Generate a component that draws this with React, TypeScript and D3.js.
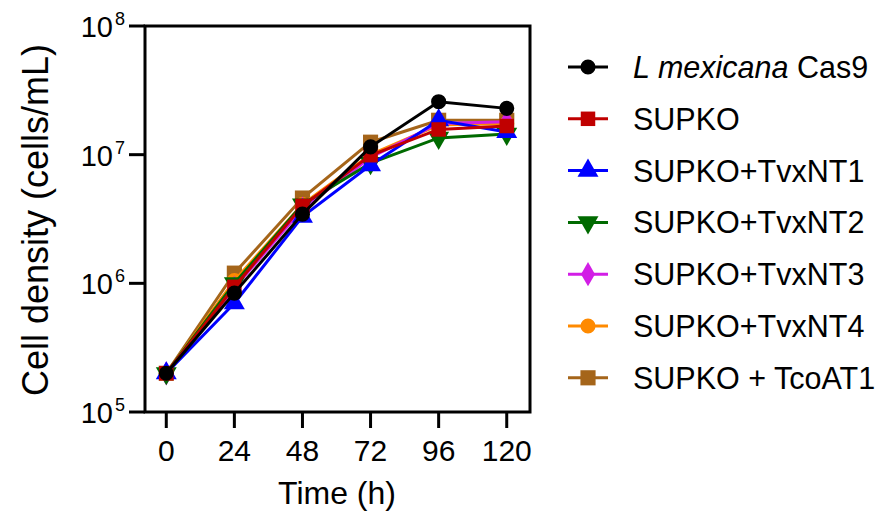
import React from 'react';
import * as d3 from 'd3';

const hours = [0, 24, 48, 72, 96, 120];
const seriesNames = [
  'L mexicana Cas9',
  'SUPKO',
  'SUPKO+TvxNT1',
  'SUPKO+TvxNT2',
  'SUPKO+TvxNT3',
  'SUPKO+TvxNT4',
  'SUPKO + TcoAT1',
];
const cas9 = [2e5, 8.4e5, 3.45e6, 1.15e7, 2.58e7, 2.29e7];
const supko = [2e5, 9.4e5, 4.0e6, 9.9e6, 1.57e7, 1.67e7];
const tvxnt1 = [2e5, 7.0e5, 3.3e6, 8.3e6, 1.85e7, 1.5e7];
const tvxnt2 = [2e5, 1.0e6, 4.1e6, 8.6e6, 1.35e7, 1.45e7];
const tvxnt3 = [2e5, 9.2e5, 3.8e6, 9.5e6, 1.75e7, 1.8e7];
const tvxnt4 = [2e5, 1.05e6, 4.1e6, 1.0e7, 1.7e7, 1.75e7];
const tcoat1 = [2e5, 1.2e6, 4.6e6, 1.25e7, 1.85e7, 1.85e7];
const yTicks = [5, 6, 7, 8];

const colors = ['#000000', '#c00000', '#0000ff', '#006a00', '#d21ee6', '#ff8a00', '#a5651a'];
const symbols = [
  d3.symbolCircle,
  d3.symbolSquare,
  d3.symbolTriangle,
  d3.symbolTriangle,
  d3.symbolDiamond,
  d3.symbolCircle,
  d3.symbolSquare,
];
const symSizes = [180, 210, 190, 190, 170, 180, 230];
const allValues = [cas9, supko, tvxnt1, tvxnt2, tvxnt3, tvxnt4, tcoat1];

const font = '"Liberation Sans", Arial, sans-serif';

export default function App() {
  const left = 145, right = 530, top = 26, bottom = 412;
  const x = d3.scaleLinear().domain([-7.5, 128.2]).range([left, right]);
  const y = d3.scaleLog().domain([1e5, 1e8]).range([bottom, top]);

  const line = d3
    .line<number>()
    .x((_, i) => x(hours[i]))
    .y((v) => y(v));

  const marker = (i: number) => d3.symbol().type(symbols[i]).size(symSizes[i])() as string;
  const rot = (i: number) => (i === 3 ? 180 : 0);

  const order = d3.range(seriesNames.length).reverse();

  return (
    <svg width={887} height={513} style={{ position: 'absolute', left: 0, top: 0, background: '#fff' }}>
      {/* series, last one under */}
      {order.map((i) => (
        <g key={i}>
          <path d={line(allValues[i]) as string} fill="none" stroke={colors[i]} strokeWidth={3} />
          {allValues[i].map((v, j) => (
            <path
              key={j}
              d={marker(i)}
              fill={colors[i]}
              transform={`translate(${x(hours[j])},${y(v)}) rotate(${rot(i)})`}
            />
          ))}
        </g>
      ))}

      {/* frame */}
      <rect x={left} y={top} width={right - left} height={bottom - top} fill="none" stroke="#000" strokeWidth={3} />

      {/* y axis ticks */}
      {yTicks.map((p) => (
        <g key={p} transform={`translate(0,${y(Math.pow(10, p))})`}>
          <line x1={129} x2={left} stroke="#000" strokeWidth={3} />
          <text x={113} y={11} textAnchor="end" fontFamily={font} fontSize={29} fill="#000">
            10
          </text>
          <text x={115} y={-1} fontFamily={font} fontSize={18} fill="#000">
            {p}
          </text>
        </g>
      ))}

      {/* x axis ticks */}
      {hours.map((h) => (
        <g key={h} transform={`translate(${x(h)},0)`}>
          <line y1={bottom} y2={bottom + 16} stroke="#000" strokeWidth={3} />
          <text y={461} textAnchor="middle" fontFamily={font} fontSize={30} fill="#000">
            {h}
          </text>
        </g>
      ))}

      <text x={337} y={504} textAnchor="middle" fontFamily={font} fontSize={32} fill="#000">
        Time (h)
      </text>
      <text
        transform="translate(48,220) rotate(-90)"
        textAnchor="middle"
        fontFamily={font}
        fontSize={36}
        fill="#000"
      >
        Cell density (cells/mL)
      </text>

      {/* legend */}
      {seriesNames.map((name, i) => {
        const ly = 67 + i * 51.8;
        return (
          <g key={name} transform={`translate(0,${ly})`}>
            <line x1={568} x2={608} stroke={colors[i]} strokeWidth={3} />
            <path d={marker(i)} fill={colors[i]} transform={`translate(588,0) rotate(${rot(i)})`} />
            <text x={633} y={11} fontFamily={font} fontSize={30.5} fill="#000">
              {i === 0 ? (
                <>
                  <tspan fontStyle="italic">L mexicana</tspan> Cas9
                </>
              ) : (
                name
              )}
            </text>
          </g>
        );
      })}
    </svg>
  );
}
